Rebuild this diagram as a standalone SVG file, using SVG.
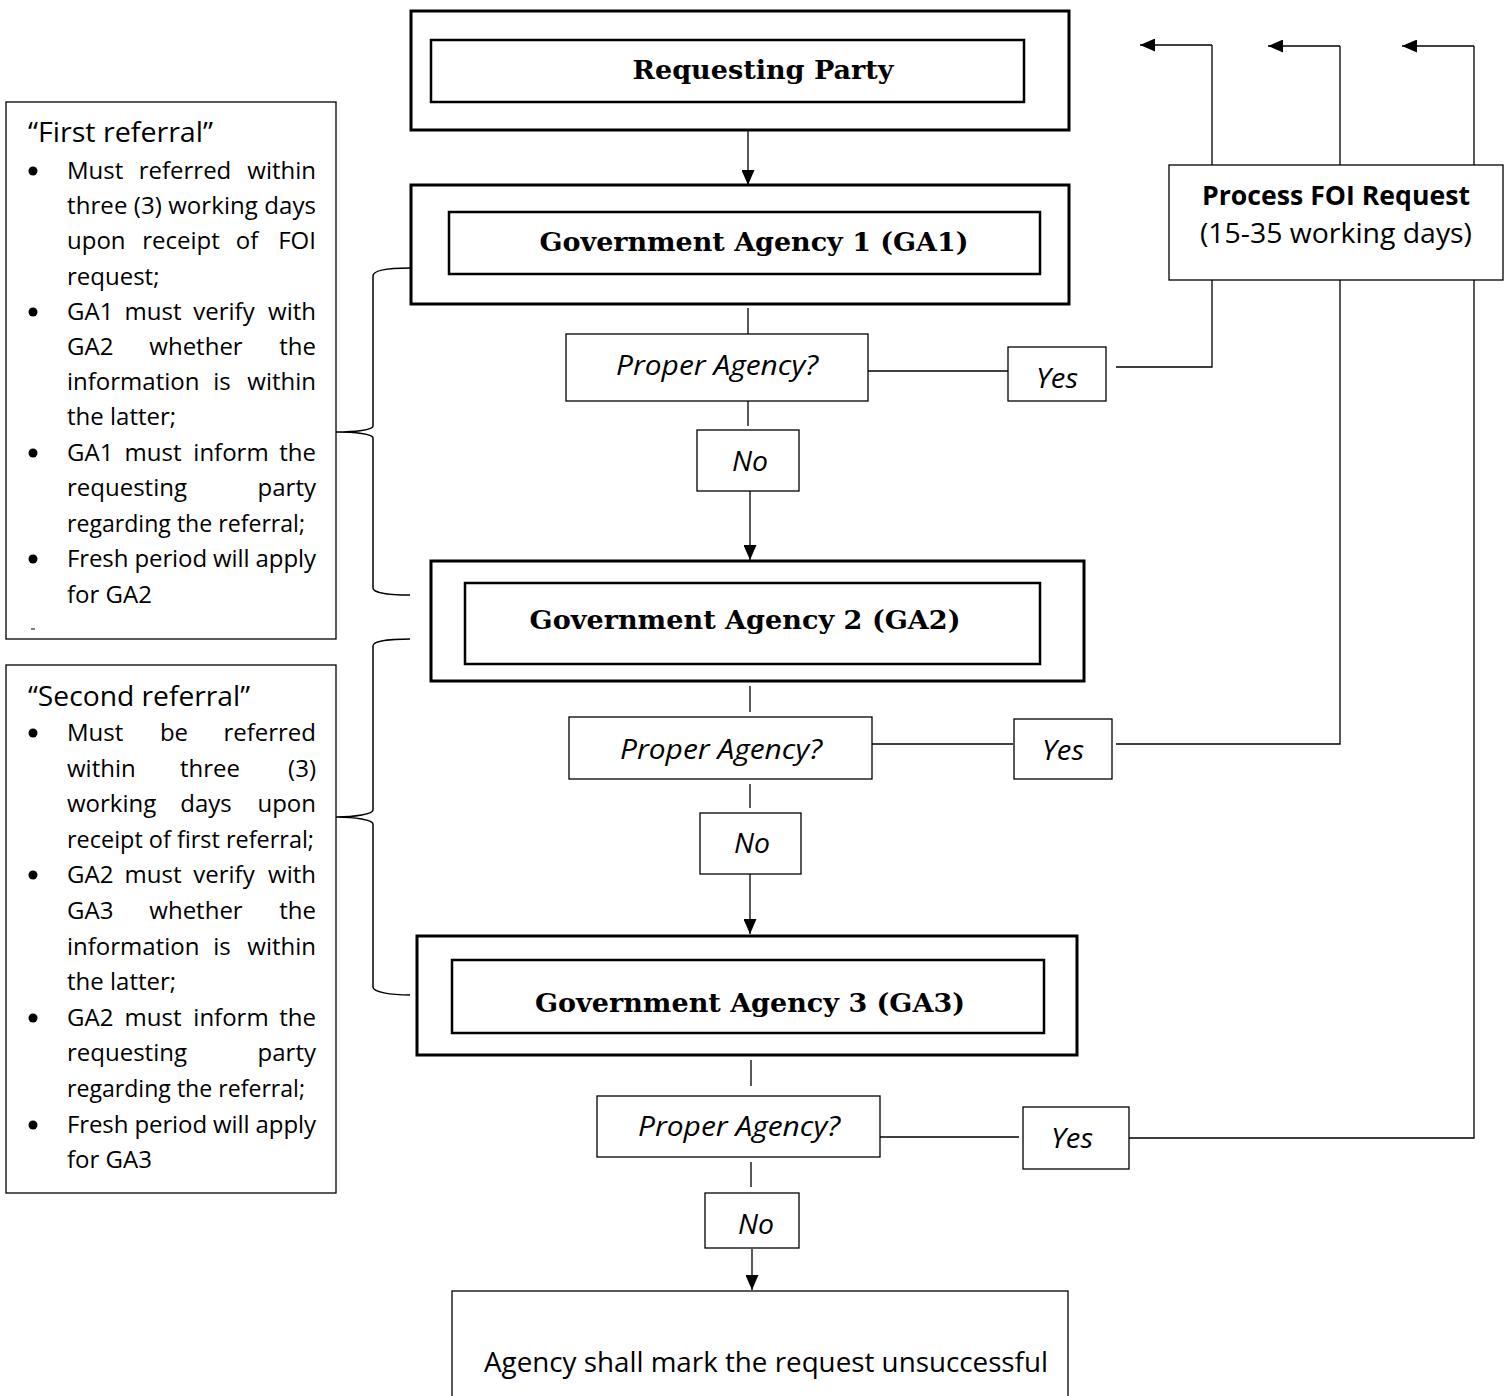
<svg xmlns="http://www.w3.org/2000/svg" width="1511" height="1396" viewBox="0 0 1511 1396">
<style>
.bg{fill:#fff}
.outer{fill:#fff;stroke:#000;stroke-width:3}
.inner{fill:#fff;stroke:#000;stroke-width:2.5}
.box{fill:#fff;stroke:#000;stroke-width:1.3}
.ln{fill:none;stroke:#000;stroke-width:1.3}
.brace{fill:none;stroke:#000;stroke-width:1.5}
.hdr{font-family:"DejaVu Serif","Liberation Serif",serif;font-weight:bold;font-size:26px;text-anchor:middle}
.it{font-family:"Open Sans","Liberation Sans",sans-serif;font-style:italic;font-size:27px;text-anchor:middle}
.tx{font-family:"Open Sans","Liberation Sans",sans-serif;font-size:24px}
.ttl{font-family:"Open Sans","Liberation Sans",sans-serif;font-size:27px}
.m{text-anchor:middle}
.e{text-anchor:end}
.big{font-family:"Open Sans","Liberation Sans",sans-serif;font-size:27px;text-anchor:middle}
.bold{font-weight:bold}
</style>
<defs>
<marker id="ah" viewBox="0 0 15 13" refX="15" refY="6.5" markerWidth="15" markerHeight="13" markerUnits="userSpaceOnUse" orient="auto">
<path d="M0,0 L15,6.5 L0,13 Z" fill="#000"/>
</marker>
</defs>
<rect class="bg" x="0" y="0" width="1511" height="1396"/>

<g id="connectors">
<line class="ln" x1="748" y1="131" x2="748" y2="185" marker-end="url(#ah)"/>
<line class="ln" x1="748" y1="308" x2="748" y2="335"/>
<line class="ln" x1="748" y1="401" x2="748" y2="426"/>
<line class="ln" x1="750" y1="491" x2="750" y2="560" marker-end="url(#ah)"/>
<line class="ln" x1="868" y1="371" x2="1008" y2="371"/>
<polyline class="ln" points="1116,367 1212,367 1212,45"/>
<line class="ln" x1="1212" y1="45" x2="1140" y2="45" marker-end="url(#ah)"/>

<line class="ln" x1="750" y1="686" x2="750" y2="712"/>
<line class="ln" x1="750" y1="784" x2="750" y2="808"/>
<line class="ln" x1="750" y1="874" x2="750" y2="934" marker-end="url(#ah)"/>
<line class="ln" x1="872" y1="744" x2="1013" y2="744"/>
<polyline class="ln" points="1116,744 1340,744 1340,46"/>
<line class="ln" x1="1340" y1="46" x2="1268" y2="46" marker-end="url(#ah)"/>

<line class="ln" x1="751" y1="1060" x2="751" y2="1086"/>
<line class="ln" x1="751" y1="1162" x2="751" y2="1187"/>
<line class="ln" x1="752" y1="1249" x2="752" y2="1290" marker-end="url(#ah)"/>
<line class="ln" x1="880" y1="1137" x2="1019" y2="1137"/>
<polyline class="ln" points="1129,1138 1474,1138 1474,46"/>
<line class="ln" x1="1474" y1="46" x2="1402" y2="46" marker-end="url(#ah)"/>

<path class="brace" d="M410,268 C390,268 373,270 373,276 L373,426 C373,430 355,432 336,432 C355,432 373,434 373,438 L373,588 C373,593 390,595 410,595"/>
<path class="brace" d="M410,639 C390,639 373,641 373,646 L373,810 C373,814 355,817 336,817 C355,817 373,820 373,824 L373,987 C373,992 390,995 410,995"/>
</g>

<g id="requesting-party">
<rect class="outer" x="411" y="11" width="658" height="119"/>
<rect class="inner" x="431" y="40" width="593" height="62"/>
<text class="hdr" x="763" y="79" textLength="261" lengthAdjust="spacingAndGlyphs">Requesting Party</text>
</g>

<g id="ga1">
<rect class="outer" x="411" y="185" width="658" height="119"/>
<rect class="inner" x="449" y="212" width="591" height="62"/>
<text class="hdr" x="754" y="251" textLength="429" lengthAdjust="spacingAndGlyphs">Government Agency 1 (GA1)</text>
</g>

<g id="proper1">
<rect class="box" x="566" y="334" width="302" height="67"/>
<text class="it" x="717" y="375" textLength="202" lengthAdjust="spacingAndGlyphs">Proper Agency?</text>
</g>
<g id="yes1">
<rect class="box" x="1008" y="347" width="98" height="54"/>
<text class="it" x="1057" y="388" textLength="42" lengthAdjust="spacingAndGlyphs">Yes</text>
</g>
<g id="no1">
<rect class="box" x="697" y="430" width="102" height="61"/>
<text class="it" x="750" y="471" textLength="36" lengthAdjust="spacingAndGlyphs">No</text>
</g>

<g id="ga2">
<rect class="outer" x="431" y="561" width="653" height="120"/>
<rect class="inner" x="465" y="583" width="575" height="81"/>
<text class="hdr" x="745" y="629" textLength="431" lengthAdjust="spacingAndGlyphs">Government Agency 2 (GA2)</text>
</g>

<g id="proper2">
<rect class="box" x="569" y="717" width="303" height="62"/>
<text class="it" x="721" y="759" textLength="202" lengthAdjust="spacingAndGlyphs">Proper Agency?</text>
</g>
<g id="yes2">
<rect class="box" x="1014" y="719" width="98" height="60"/>
<text class="it" x="1063" y="760" textLength="42" lengthAdjust="spacingAndGlyphs">Yes</text>
</g>
<g id="no2">
<rect class="box" x="700" y="813" width="101" height="61"/>
<text class="it" x="752" y="853" textLength="36" lengthAdjust="spacingAndGlyphs">No</text>
</g>

<g id="ga3">
<rect class="outer" x="417" y="936" width="660" height="119"/>
<rect class="inner" x="452" y="960" width="592" height="73"/>
<text class="hdr" x="750" y="1012" textLength="430" lengthAdjust="spacingAndGlyphs">Government Agency 3 (GA3)</text>
</g>

<g id="proper3">
<rect class="box" x="597" y="1096" width="283" height="61"/>
<text class="it" x="739" y="1136" textLength="202" lengthAdjust="spacingAndGlyphs">Proper Agency?</text>
</g>
<g id="yes3">
<rect class="box" x="1023" y="1107" width="106" height="62"/>
<text class="it" x="1072" y="1148" textLength="42" lengthAdjust="spacingAndGlyphs">Yes</text>
</g>
<g id="no3">
<rect class="box" x="705" y="1193" width="94" height="55"/>
<text class="it" x="756" y="1234" textLength="36" lengthAdjust="spacingAndGlyphs">No</text>
</g>

<g id="unsuccessful">
<rect class="box" x="452" y="1291" width="616" height="120"/>
<text class="big" x="766" y="1372" textLength="564" lengthAdjust="spacingAndGlyphs">Agency shall mark the request unsuccessful</text>
</g>

<g id="process-foi">
<rect class="box" x="1169" y="165" width="334" height="115"/>
<text class="big bold" x="1336" y="205" font-size="25" textLength="268" lengthAdjust="spacingAndGlyphs">Process FOI Request</text>
<text class="big" x="1336" y="243" font-size="26" textLength="272" lengthAdjust="spacingAndGlyphs">(15-35 working days)</text>
</g>

<g id="first-referral">
<rect class="box" x="6" y="102" width="330" height="537"/>
<text class="ttl" x="28" y="142" textLength="185" lengthAdjust="spacingAndGlyphs">“First referral”</text>
<g fill="#000">
<circle cx="33" cy="171" r="4.5"/><circle cx="33" cy="312" r="4.5"/><circle cx="33" cy="453" r="4.5"/><circle cx="33" cy="559" r="4.5"/>
</g>
<g class="tx">
<text x="67" y="179">Must</text><text class="m" x="185" y="179">referred</text><text class="e" x="316" y="179">within</text>
<text x="67" y="214" textLength="249" lengthAdjust="spacing">three (3) working days</text>
<text x="67" y="249">upon</text><text class="m" x="181" y="249">receipt</text><text class="m" x="247" y="249">of</text><text class="e" x="316" y="249">FOI</text>
<text x="67" y="285">request;</text>
<text x="67" y="320">GA1</text><text class="m" x="153" y="320">must</text><text class="m" x="224" y="320">verify</text><text class="e" x="316" y="320">with</text>
<text x="67" y="355">GA2</text><text class="m" x="196" y="355">whether</text><text class="e" x="316" y="355">the</text>
<text x="67" y="390">information</text><text class="m" x="222" y="390">is</text><text class="e" x="316" y="390">within</text>
<text x="67" y="425">the latter;</text>
<text x="67" y="461">GA1</text><text class="m" x="153" y="461">must</text><text class="m" x="231" y="461">inform</text><text class="e" x="316" y="461">the</text>
<text x="67" y="496">requesting</text><text class="e" x="316" y="496">party</text>
<text x="67" y="532" textLength="238" lengthAdjust="spacingAndGlyphs">regarding the referral;</text>
<text x="67" y="567" textLength="249" lengthAdjust="spacing">Fresh period will apply</text>
<text x="67" y="603">for GA2</text>
</g>
<line x1="31" y1="629" x2="35" y2="629" stroke="#000" stroke-width="1"/>
</g>

<g id="second-referral">
<rect class="box" x="6" y="665" width="330" height="528"/>
<text class="ttl" x="28" y="706" textLength="222" lengthAdjust="spacingAndGlyphs">“Second referral”</text>
<g fill="#000">
<circle cx="33" cy="733" r="4.5"/><circle cx="33" cy="875" r="4.5"/><circle cx="33" cy="1018" r="4.5"/><circle cx="33" cy="1125" r="4.5"/>
</g>
<g class="tx">
<text x="67" y="741">Must</text><text class="m" x="174" y="741">be</text><text class="e" x="316" y="741">referred</text>
<text x="67" y="777">within</text><text class="m" x="210" y="777">three</text><text class="e" x="316" y="777">(3)</text>
<text x="67" y="812">working</text><text class="m" x="206" y="812">days</text><text class="e" x="316" y="812">upon</text>
<text x="67" y="848" textLength="247" lengthAdjust="spacingAndGlyphs">receipt of first referral;</text>
<text x="67" y="883">GA2</text><text class="m" x="153" y="883">must</text><text class="m" x="224" y="883">verify</text><text class="e" x="316" y="883">with</text>
<text x="67" y="919">GA3</text><text class="m" x="196" y="919">whether</text><text class="e" x="316" y="919">the</text>
<text x="67" y="955">information</text><text class="m" x="222" y="955">is</text><text class="e" x="316" y="955">within</text>
<text x="67" y="990">the latter;</text>
<text x="67" y="1026">GA2</text><text class="m" x="153" y="1026">must</text><text class="m" x="231" y="1026">inform</text><text class="e" x="316" y="1026">the</text>
<text x="67" y="1061">requesting</text><text class="e" x="316" y="1061">party</text>
<text x="67" y="1097" textLength="238" lengthAdjust="spacingAndGlyphs">regarding the referral;</text>
<text x="67" y="1133" textLength="249" lengthAdjust="spacing">Fresh period will apply</text>
<text x="67" y="1168">for GA3</text>
</g>
</g>
</svg>
